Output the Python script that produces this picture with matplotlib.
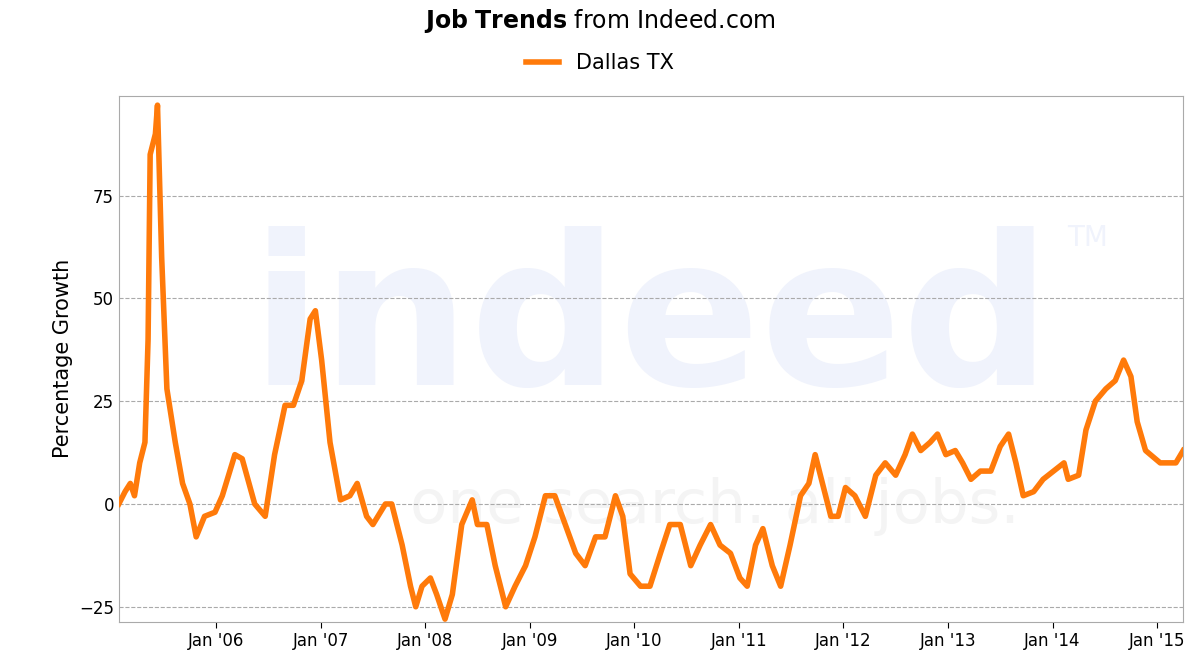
import matplotlib.pyplot as plt

# Dallas TX job trend, percentage growth (decimal years)
years = [2005.07, 2005.13, 2005.18, 2005.22, 2005.27, 2005.32, 2005.35, 2005.37, 2005.42, 2005.44,
         2005.48, 2005.53, 2005.61, 2005.68, 2005.75, 2005.81, 2005.89, 2005.99, 2006.06, 2006.18,
         2006.25, 2006.37, 2006.47, 2006.56, 2006.66, 2006.74, 2006.82, 2006.90, 2006.95, 2007.01,
         2007.09, 2007.19, 2007.28, 2007.35, 2007.44, 2007.50, 2007.62, 2007.68, 2007.78, 2007.86,
         2007.91, 2007.97, 2008.05, 2008.11, 2008.19, 2008.26, 2008.35, 2008.45, 2008.50, 2008.59,
         2008.67, 2008.77, 2008.86, 2008.96, 2009.05, 2009.15, 2009.24, 2009.34, 2009.44, 2009.53,
         2009.63, 2009.72, 2009.82, 2009.89, 2009.96, 2010.06, 2010.15, 2010.25, 2010.34, 2010.44,
         2010.54, 2010.63, 2010.73, 2010.82, 2010.92, 2011.01, 2011.08, 2011.16, 2011.23, 2011.32,
         2011.40, 2011.49, 2011.59, 2011.67, 2011.73, 2011.80, 2011.88, 2011.95, 2012.02, 2012.11,
         2012.21, 2012.31, 2012.40, 2012.50, 2012.59, 2012.66, 2012.74, 2012.83, 2012.90, 2012.98,
         2013.07, 2013.14, 2013.22, 2013.31, 2013.41, 2013.50, 2013.58, 2013.65, 2013.72, 2013.82,
         2013.91, 2014.01, 2014.11, 2014.15, 2014.25, 2014.32, 2014.41, 2014.51, 2014.60, 2014.68,
         2014.75, 2014.81, 2014.89, 2015.03, 2015.18, 2015.25]
growth = [0, 3, 5, 2, 10, 15, 40, 85, 90, 97,
          60, 28, 15, 5, 0, -8, -3, -2, 2, 12,
          11, 0, -3, 12, 24, 24, 30, 45, 47, 35,
          15, 1, 2, 5, -3, -5, 0, 0, -10, -20,
          -25, -20, -18, -22, -28, -22, -5, 1, -5, -5,
          -15, -25, -20, -15, -8, 2, 2, -5, -12, -15,
          -8, -8, 2, -3, -17, -20, -20, -12, -5, -5,
          -15, -10, -5, -10, -12, -18, -20, -10, -6, -15,
          -20, -10, 2, 5, 12, 5, -3, -3, 4, 2,
          -3, 7, 10, 7, 12, 17, 13, 15, 17, 12,
          13, 10, 6, 8, 8, 14, 17, 10, 2, 3,
          6, 8, 10, 6, 7, 18, 25, 28, 30, 35,
          31, 20, 13, 10, 10, 13]

tick_years = list(range(2006, 2016))
tick_labels = ["Jan '%02d" % (y % 100) for y in tick_years]

fig = plt.figure(figsize=(12, 6.67), dpi=100)
ax = fig.add_axes([0.099, 0.0675, 0.887, 0.789])

# faint watermark
ax.text(0.5, 0.56, "indeed", transform=ax.transAxes, ha='center', va='center',
        fontsize=150, fontweight='bold', color='#f0f3fc', zorder=0)
ax.text(0.91, 0.73, "TM", transform=ax.transAxes, ha='center', va='center',
        fontsize=20, color='#f0f3fc', zorder=0)
ax.text(0.56, 0.22, "one search. all jobs.", transform=ax.transAxes, ha='center', va='center',
        fontsize=44, color='#f4f4f4', zorder=0)

ax.plot(years, growth, color='#ff7a0a', lw=4, label='Dallas TX', zorder=3)

ax.set_xlim(2005.07, 2015.25)
ax.set_ylim(-28.7, 99.3)
ax.set_xticks(tick_years)
ax.set_xticklabels(tick_labels, fontsize=12)
ax.set_yticks([-25, 0, 25, 50, 75])
ax.tick_params(axis='y', labelsize=12, length=0)
ax.tick_params(axis='x', length=4)
ax.yaxis.grid(True, color='#aaaaaa', linestyle='--', lw=0.8)
ax.set_ylabel('Percentage Growth', fontsize=15)
for s in ax.spines.values():
    s.set_color('#aaaaaa')

fig.text(0.5, 0.968, r'$\bf{Job\ Trends}$ from Indeed.com', ha='center', va='center', fontsize=17)
fig.legend(loc='center', bbox_to_anchor=(0.5, 0.905), frameon=False, fontsize=15,
           handlelength=1.6)

fig.savefig('out.png')
